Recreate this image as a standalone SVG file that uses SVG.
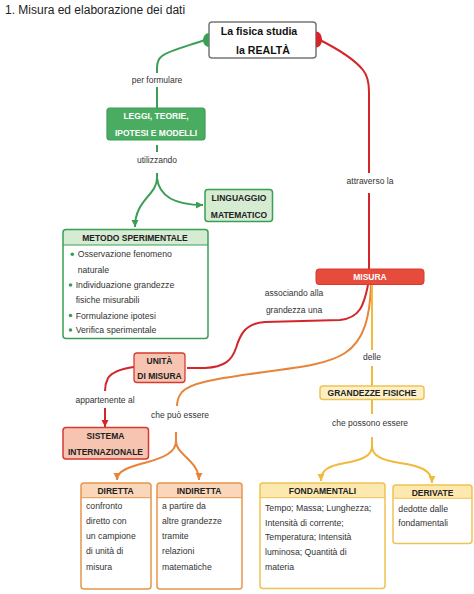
<svg xmlns="http://www.w3.org/2000/svg" width="474" height="594" viewBox="0 0 474 594">
<style>
text{font-family:"Liberation Sans",Arial,sans-serif;fill:#222}
.title{font-size:12px}
.b{font-weight:bold;font-size:8.5px;text-anchor:middle}
.root{font-weight:bold;font-size:10.6px;text-anchor:middle;fill:#111}
.w{fill:#fff}
.lbl{font-size:8.5px;text-anchor:middle;fill:#333}
.body{font-size:8.7px;fill:#333}
.cg{fill:none;stroke:#3b9e56;stroke-width:2}
.cr{fill:none;stroke:#d3262b;stroke-width:2}
.co{fill:none;stroke:#e8843a;stroke-width:2}
.cy{fill:none;stroke:#f0ba3c;stroke-width:2}
</style>
<defs>
<marker id="ag" markerUnits="userSpaceOnUse" markerWidth="8" markerHeight="8" refX="7" refY="3.5" orient="auto"><path d="M0,0 L7,3.5 L0,7 z" fill="#3b9e56"/></marker>
<marker id="ar" markerUnits="userSpaceOnUse" markerWidth="8" markerHeight="8" refX="7" refY="3.5" orient="auto"><path d="M0,0 L7,3.5 L0,7 z" fill="#d3262b"/></marker>
<marker id="ao" markerUnits="userSpaceOnUse" markerWidth="8" markerHeight="8" refX="7" refY="3.5" orient="auto"><path d="M0,0 L7,3.5 L0,7 z" fill="#e8843a"/></marker>
<marker id="ay" markerUnits="userSpaceOnUse" markerWidth="8" markerHeight="8" refX="7" refY="3.5" orient="auto"><path d="M0,0 L7,3.5 L0,7 z" fill="#f0ba3c"/></marker>
</defs>
<rect width="474" height="594" fill="#fff"/>
<text class="title" x="5" y="13.5">1. Misura ed elaborazione dei dati</text>

<g id="connectors">
  <!-- green -->
  <path class="cg" d="M205,40 C188,46 170,50 162,56 C158,59 157,63 157,68 L157,73"/>
  <path class="cg" d="M157,87 L157,108"/>
  <path class="cg" d="M157,145 L157,152"/>
  <path class="cg" d="M157,173 L157,178 C157,195 135,200 135,227" marker-end="url(#ag)"/>
  <path class="cg" d="M157,178 C159,195 172,205 203,205" marker-end="url(#ag)"/>
  <!-- red -->
  <path class="cr" d="M318,39 C340,50 355,60 363,70 C368,76 369,83 369,92 L369,173"/>
  <path class="cr" d="M369,193 L369,269"/>
  <path class="cr" d="M368,285 C364,305 360,318 340,320 L265,322 C245,323 240,335 236,348 C232,360 225,367 205,368 L187,368"/>
  <path class="cr" d="M134,367 C120,369 112,372 108,378 C106,382 105,385 105,391"/>
  <path class="cr" d="M105,408 L105,427" marker-end="url(#ar)"/>
  <!-- orange -->
  <path class="co" d="M371,285 C370,315 365,340 345,353 C325,366 290,368 250,374 C215,379 190,383 182,392 C178,397 177,400 177,406"/>
  <path class="co" d="M176,432 L176,441 C176,452 165,457 148,462 C128,467 117,471 117,480" marker-end="url(#ao)"/>
  <path class="co" d="M176,441 C176,450 185,455 190,461 C196,467 199,472 199,480" marker-end="url(#ao)"/>
  <!-- yellow -->
  <path class="cy" d="M372,285 L372,350"/>
  <path class="cy" d="M372,366 L372,386"/>
  <path class="cy" d="M372,400 L372,414"/>
  <path class="cy" d="M372,437 L372,446 C372,456 362,460 345,463 C328,466 321,470 321,481" marker-end="url(#ay)"/>
  <path class="cy" d="M372,446 C372,456 382,460 400,463 C420,466 432,470 432,483" marker-end="url(#ay)"/>
</g>

<g id="root">
  <rect x="209" y="22" width="107" height="36" rx="3" fill="#fff" stroke="#777" stroke-width="1.5"/>
  <path d="M209,33 A6,7 0 0,0 209,47 Z" fill="#3b9e56"/>
  <path d="M316,31.5 A6,8 0 0,1 316,47.5 Z" fill="#d3262b"/>
  <text class="root" x="259" y="34.5">La fisica studia</text>
  <text class="root" x="263" y="54">la REALTÀ</text>
</g>
<text class="lbl" x="157" y="83">per formulare</text>

<g id="leggi">
  <rect x="107" y="108" width="98" height="32" rx="3" fill="#4aac60" stroke="#3b9e56" stroke-width="1.2"/>
  <text class="b w" x="156" y="119">LEGGI, TEORIE,</text>
  <text class="b w" x="156" y="136.3">IPOTESI E MODELLI</text>
</g>
<text class="lbl" x="157" y="163">utilizzando</text>

<g id="linguaggio">
  <rect x="205" y="189.5" width="67.5" height="32" rx="3" fill="#d5ebd2" stroke="#3b9e56" stroke-width="1.5"/>
  <text class="b" x="239" y="200.8">LINGUAGGIO</text>
  <text class="b" x="239" y="218">MATEMATICO</text>
</g>

<g id="metodo">
  <rect x="63" y="229.5" width="145" height="109" rx="3" fill="#fff"/>
  <path d="M63,245 V232.5 Q63,229.5 66,229.5 H205 Q208,229.5 208,232.5 V245 Z" fill="#d5ebd2"/>
  <line x1="63" y1="245" x2="208" y2="245" stroke="#3b9e56" stroke-width="1"/>
  <rect x="63" y="229.5" width="145" height="109" rx="3" fill="none" stroke="#3b9e56" stroke-width="1.5"/>
  <text class="b" x="135" y="240.5">METODO SPERIMENTALE</text>
  <g fill="#3b9e56">
    <circle cx="72.3" cy="254.3" r="1.8"/>
    <circle cx="70.5" cy="285" r="1.8"/>
    <circle cx="70.5" cy="315.5" r="1.8"/>
    <circle cx="70.5" cy="330" r="1.8"/>
  </g>
  <text class="body" x="77.7" y="257.4">Osservazione fenomeno</text>
  <text class="body" x="77.7" y="273">naturale</text>
  <text class="body" x="75.7" y="288">Individuazione grandezze</text>
  <text class="body" x="75.7" y="303">fisiche misurabili</text>
  <text class="body" x="75.7" y="318.7">Formulazione ipotesi</text>
  <text class="body" x="75.7" y="333">Verifica sperimentale</text>
</g>

<text class="lbl" x="370" y="184">attraverso la</text>

<g id="misura">
  <rect x="316" y="269" width="108" height="15.5" rx="3" fill="#e74b3b" stroke="#d83a2c" stroke-width="1"/>
  <text class="b w" x="370" y="279.5">MISURA</text>
</g>

<text class="lbl" x="294" y="296">associando alla</text>
<text class="lbl" x="294" y="313">grandezza una</text>

<g id="unita">
  <rect x="134" y="353" width="51" height="29.5" rx="3" fill="#f7c4b2" stroke="#d63a30" stroke-width="1.3"/>
  <text class="b" x="159.5" y="363.7">UNITÀ</text>
  <text class="b" x="159.5" y="378.7">DI MISURA</text>
</g>
<text class="lbl" x="105" y="403">appartenente al</text>

<g id="sistema">
  <rect x="63" y="427.5" width="85.5" height="31.5" rx="3" fill="#f7c4b2" stroke="#d63a30" stroke-width="1.5"/>
  <text class="b" x="105.5" y="438.7">SISTEMA</text>
  <text class="b" x="105.5" y="455.3">INTERNAZIONALE</text>
</g>

<text class="lbl" x="180" y="418">che può essere</text>
<text class="lbl" x="372" y="359.7">delle</text>

<g id="grandezze">
  <rect x="320" y="386" width="104" height="13.5" rx="3" fill="#fdefc6" stroke="#f0c253" stroke-width="1.5"/>
  <text class="b" x="372" y="395.8">GRANDEZZE FISICHE</text>
</g>
<text class="lbl" x="370" y="426.3">che possono essere</text>

<g id="diretta">
  <rect x="81" y="483" width="70" height="106" rx="3" fill="#fff"/>
  <path d="M81,497.7 V486 Q81,483 84,483 H148 Q151,483 151,486 V497.7 Z" fill="#fad7ba"/>
  <line x1="81" y1="497.7" x2="151" y2="497.7" stroke="#e8954c" stroke-width="1"/>
  <rect x="81" y="483" width="70" height="106" rx="3" fill="none" stroke="#e8954c" stroke-width="1.5"/>
  <text class="b" x="115.5" y="493.7">DIRETTA</text>
  <text class="body" x="86" y="509">confronto</text>
  <text class="body" x="86" y="524">diretto con</text>
  <text class="body" x="86" y="539">un campione</text>
  <text class="body" x="86" y="554">di unità di</text>
  <text class="body" x="86" y="569.7">misura</text>
</g>

<g id="indiretta">
  <rect x="157" y="483" width="85" height="106" rx="3" fill="#fff"/>
  <path d="M157,497.7 V486 Q157,483 160,483 H239 Q242,483 242,486 V497.7 Z" fill="#fad7ba"/>
  <line x1="157" y1="497.7" x2="242" y2="497.7" stroke="#e8954c" stroke-width="1"/>
  <rect x="157" y="483" width="85" height="106" rx="3" fill="none" stroke="#e8954c" stroke-width="1.5"/>
  <text class="b" x="199" y="493.7">INDIRETTA</text>
  <text class="body" x="162" y="509">a partire da</text>
  <text class="body" x="162" y="524">altre grandezze</text>
  <text class="body" x="162" y="539">tramite</text>
  <text class="body" x="162" y="554">relazioni</text>
  <text class="body" x="162" y="569.7">matematiche</text>
</g>

<g id="fondamentali">
  <rect x="260" y="483" width="125" height="105.5" rx="3" fill="#fff"/>
  <path d="M260,497.7 V486 Q260,483 263,483 H382 Q385,483 385,486 V497.7 Z" fill="#fde9b0"/>
  <line x1="260" y1="497.7" x2="385" y2="497.7" stroke="#f0c253" stroke-width="1"/>
  <rect x="260" y="483" width="125" height="105.5" rx="3" fill="none" stroke="#f0c253" stroke-width="1.5"/>
  <text class="b" x="322.5" y="493.7">FONDAMENTALI</text>
  <text class="body" x="265" y="510.7">Tempo; Massa; Lunghezza;</text>
  <text class="body" x="265" y="525.7">Intensità di corrente;</text>
  <text class="body" x="265" y="540.3">Temperatura; Intensità</text>
  <text class="body" x="265" y="555.3">luminosa; Quantità di</text>
  <text class="body" x="265" y="570.3">materia</text>
</g>

<g id="derivate">
  <rect x="393" y="485" width="79" height="58.5" rx="3" fill="#fff"/>
  <path d="M393,498.3 V488 Q393,485 396,485 H469 Q472,485 472,488 V498.3 Z" fill="#fde9b0"/>
  <line x1="393" y1="498.3" x2="472" y2="498.3" stroke="#f0c253" stroke-width="1"/>
  <rect x="393" y="485" width="79" height="58.5" rx="3" fill="none" stroke="#f0c253" stroke-width="1.5"/>
  <text class="b" x="432.5" y="495.5">DERIVATE</text>
  <text class="body" x="398.3" y="511.5">dedotte dalle</text>
  <text class="body" x="398.3" y="525.7">fondamentali</text>
</g>
</svg>
